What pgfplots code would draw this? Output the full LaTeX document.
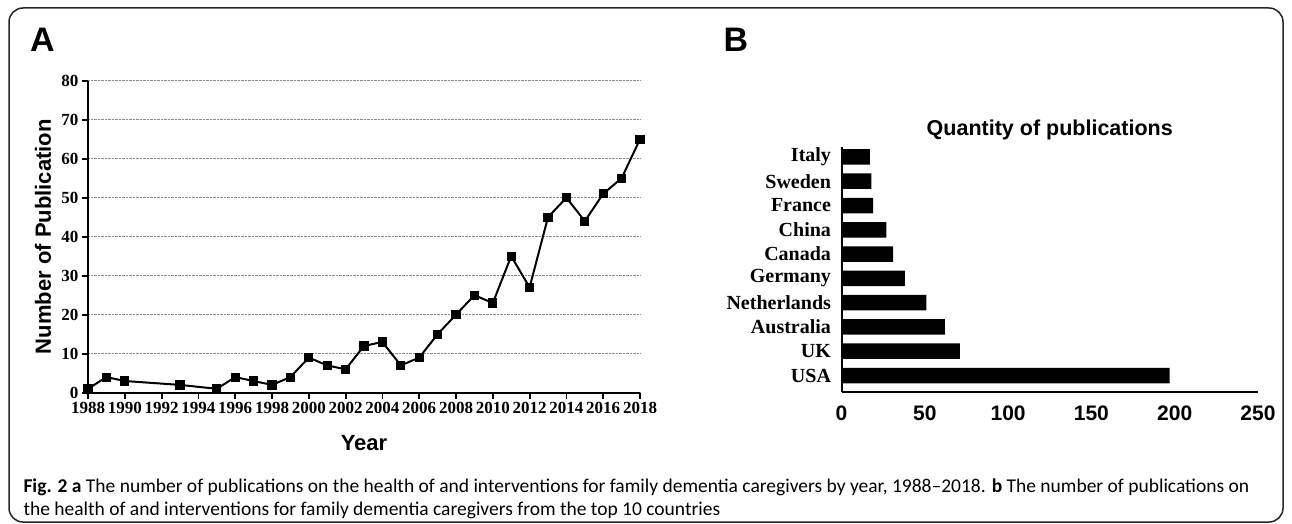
\documentclass[border=0pt]{standalone}
\usepackage{fontspec}
\usepackage{pgfplots}
\pgfplotsset{compat=1.18}
\setmainfont{Liberation Sans}
\newfontfamily\timesf{Liberation Serif}
\newfontfamily\capf{Carlito}
\begin{document}
\begin{tikzpicture}[x=1pt,y=1pt]
\useasboundingbox (0,0) rectangle (1292,523);
\draw[line width=1.5pt, black!85, rounded corners=14pt] (9,1) rectangle (1283,515);
\node[font=\fontsize{34}{34}\selectfont\bfseries, anchor=center] at (42.5,483) {A};
\node[font=\fontsize{34}{34}\selectfont\bfseries, anchor=center] at (736,483) {B};

\begin{axis}[
 at={(88pt,130.3pt)}, anchor=south west, scale only axis, width=552pt, height=312pt,
 xmin=1988, xmax=2018, ymin=0, ymax=80,
 xtick={1988,1990,...,2018}, ytick={0,10,...,80},
 axis x line*=bottom, axis y line*=left,
 axis line style={line width=2pt, -},
 tick style={line width=1.8pt, black},
 major tick length=6pt, tick align=outside,
 ymajorgrids, grid style={densely dotted, black!45, line width=0.8pt},
 /pgf/number format/assume math mode=true,
 /pgf/number format/1000 sep={},
 tick label style={font=\timesf\bfseries\fontsize{17}{17}\selectfont},
 xlabel={Year}, ylabel={Number of Publication},
 label style={font=\bfseries\fontsize{22}{22}\selectfont},
 xlabel style={at={(axis description cs:0.5,-0.1612)}, anchor=center},
 ylabel style={at={(axis description cs:-0.0815,0.5)}, anchor=center},
 clip=false,
]
\addplot[black, line width=2pt, mark=square*, mark size=3.6pt, mark options={solid}] coordinates {
(1988,1) (1989,4) (1990,3) (1993,2) (1995,1) (1996,4) (1997,3) (1998,2) (1999,4)
(2000,9) (2001,7) (2002,6) (2003,12) (2004,13) (2005,7) (2006,9) (2007,15) (2008,20)
(2009,25) (2010,23) (2011,35) (2012,27) (2013,45) (2014,50) (2015,44) (2016,51)
(2017,55) (2018,65)};
\end{axis}

\begin{axis}[
 at={(841.5pt,131.3pt)}, anchor=south west, scale only axis, width=416.5pt, height=244.7pt,
 xmin=0, xmax=250, ymin=-0.667, ymax=9.41,
 xbar, bar width=15.5pt,
 axis x line*=bottom, axis y line*=left,
 axis line style={line width=2pt, -},
 major tick length=0pt,
 xtick={0,50,...,250}, ytick={0,...,9},
 yticklabels={USA,UK,Australia,Netherlands,Germany,Canada,China,France,Sweden,Italy},
 /pgf/number format/assume math mode=true,
 xticklabel style={font=\bfseries\fontsize{21}{21}\selectfont, yshift=-11pt},
 yticklabel style={font=\timesf\bfseries\fontsize{20}{20}\selectfont, xshift=-7pt},
 title={Quantity of publications},
 title style={font=\bfseries\fontsize{21.5}{21.5}\selectfont, at={(axis description cs:0.5,1.0613)}, anchor=center, yshift=-4pt},
 clip=false,
]
\addplot[fill=black, draw=none] coordinates {(197,0) (71,1) (62,2) (51,3) (38,4) (31,5) (27,6) (19,7) (18,8) (17,9)};
\end{axis}

\node[anchor=west, font=\capf\fontsize{19.5}{19.5}\selectfont] at (20,36) {\textbf{Fig. 2 a} The number of publications on the health of and interventions for family dementia caregivers by year, 1988–2018. \textbf{b} The number of publications on};
\node[anchor=west, font=\capf\fontsize{19.5}{19.5}\selectfont] at (20,13) {the health of and interventions for family dementia caregivers from the top 10 countries};
\end{tikzpicture}
\end{document}
